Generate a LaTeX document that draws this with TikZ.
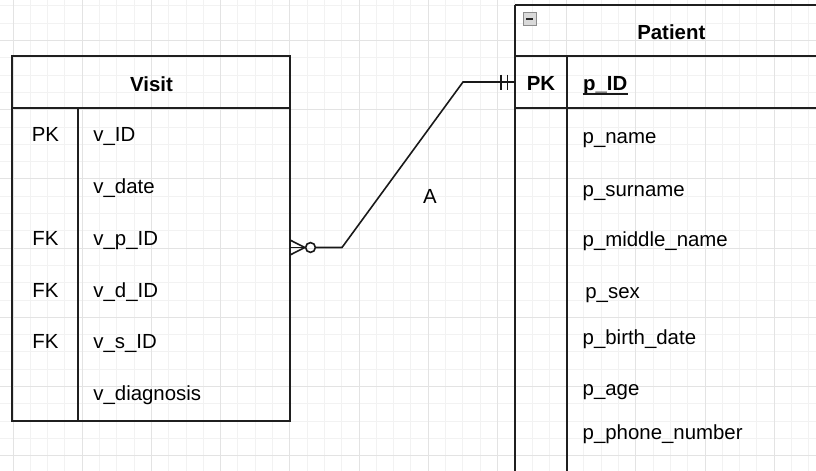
\documentclass[tikz,border=0pt]{standalone}
\usepackage{fontspec}
\setmainfont{Liberation Sans}

\begin{document}
\begin{tikzpicture}[x=0.5pt, y=-0.5pt,
	gridminor/.style={draw=black!5, line width=0.5pt},
	gridmajor/.style={draw=black!11, line width=0.5pt},
	tbl/.style={draw=black!88, line width=1pt},
	rel/.style={draw=black!90, line width=0.8pt},
	keytxt/.style={font=\fontsize{10.2}{12}\selectfont, anchor=base, inner sep=0pt},
	fieldtxt/.style={font=\fontsize{10.2}{12}\selectfont, anchor=base west, inner sep=0pt},
	titletxt/.style={font=\fontsize{10.2}{12}\selectfont\bfseries, anchor=base, inner sep=0pt}]
	\useasboundingbox (0,0) rectangle (816,471);
	\clip (0,0) rectangle (816,471);

	% background grid
	\foreach \i in {0,...,46} \draw[gridminor] ({13+17.3*\i},0) -- ({13+17.3*\i},471);
	\foreach \j in {0,...,27} \draw[gridminor] (0,{5.9+17.3*\j}) -- (816,{5.9+17.3*\j});
	\foreach \i in {0,...,11} \draw[gridmajor] ({13+69.2*\i},0) -- ({13+69.2*\i},471);
	\foreach \j in {0,...,6} \draw[gridmajor] (0,{40.5+69.2*\j}) -- (816,{40.5+69.2*\j});

	% Visit
	\draw[tbl] (12,56) rectangle (290,421);
	\draw[tbl] (12,108) -- (290,108);
	\draw[tbl] (78,108) -- (78,421);
	\node[titletxt] (visit) at (151.5,91.5) {Visit};
	\node[keytxt] (vk1) at (45.5,141.7) {PK};
	\node[keytxt] (vk3) at (45.5,245.3) {FK};
	\node[keytxt] (vk4) at (45.5,297.1) {FK};
	\node[keytxt] (vk5) at (45.5,348.9) {FK};
	\node[fieldtxt] (vid)   at (93,141.7) {v\_ID};
	\node[fieldtxt] (vdate) at (93,193.5) {v\_date};
	\node[fieldtxt] (vpid)  at (93,245.3) {v\_p\_ID};
	\node[fieldtxt] (vdid)  at (93,297.1) {v\_d\_ID};
	\node[fieldtxt] (vsid)  at (93,348.9) {v\_s\_ID};
	\node[fieldtxt] (vdiag) at (93,400.7) {v\_diagnosis};

	% Patient (runs off to the right and bottom)
	\draw[tbl] (515,5) -- (515,471);
	\draw[tbl] (515,5) -- (830,5);
	\draw[tbl] (515,56) -- (830,56);
	\draw[tbl] (515,108) -- (830,108);
	\draw[tbl] (567,56) -- (567,471);
	\draw[draw=black!45, fill=black!15, line width=0.4pt] (523,12) rectangle (536,25);
	\draw[black!85, line width=1pt] (526,18.5) -- (533,18.5);
	\node[titletxt] (patient) at (671.3,39.3) {Patient};
	\node[titletxt] (pk) at (541,90.7) {PK};
	\node[fieldtxt, font=\fontsize{10.2}{12}\selectfont\bfseries] (pid) at (582.7,90.7) {p\_ID};
	\draw[black!90, line width=0.7pt] ([yshift=-1.7pt]pid.base west) -- ([yshift=-1.7pt]pid.base east);
	\node[fieldtxt] (pname)    at (582.3,143.3) {p\_name};
	\node[fieldtxt] (psurname) at (582.3,196)   {p\_surname};
	\node[fieldtxt] (pmiddle)  at (582.3,246.7) {p\_middle\_name};
	\node[fieldtxt] (psex)     at (585,298.3)   {p\_sex};
	\node[fieldtxt] (pbirth)   at (582.3,344.3) {p\_birth\_date};
	\node[fieldtxt] (page)     at (582.3,395)   {p\_age};
	\node[fieldtxt] (pphone)   at (582.3,439.3) {p\_phone\_number};

	% relation: zero-or-many to exactly one
	\coordinate (vfk) at (290,247.5);
	\coordinate (ppk) at (515,82);
	\node[circle, draw=black!90, line width=0.8pt, inner sep=0pt, minimum size=4.9pt] (zc) at (310.5,247.5) {};
	\draw[rel] (vfk) ++(0,-7.5) -- (zc.west);
	\draw[rel] (vfk) -- (zc.west);
	\draw[rel] (vfk) ++(0,7.5) -- (zc.west);
	\draw[rel] (zc.east) -- (342,247.5) -- (463,82) -- (ppk);
	\draw[rel] (501,74.5) -- (501,89.5);
	\draw[rel] (507.5,74.5) -- (507.5,89.5);
	\node[font=\fontsize{10.2}{12}\selectfont] (lblA) at (430,196.7) {A};
\end{tikzpicture}
\end{document}
